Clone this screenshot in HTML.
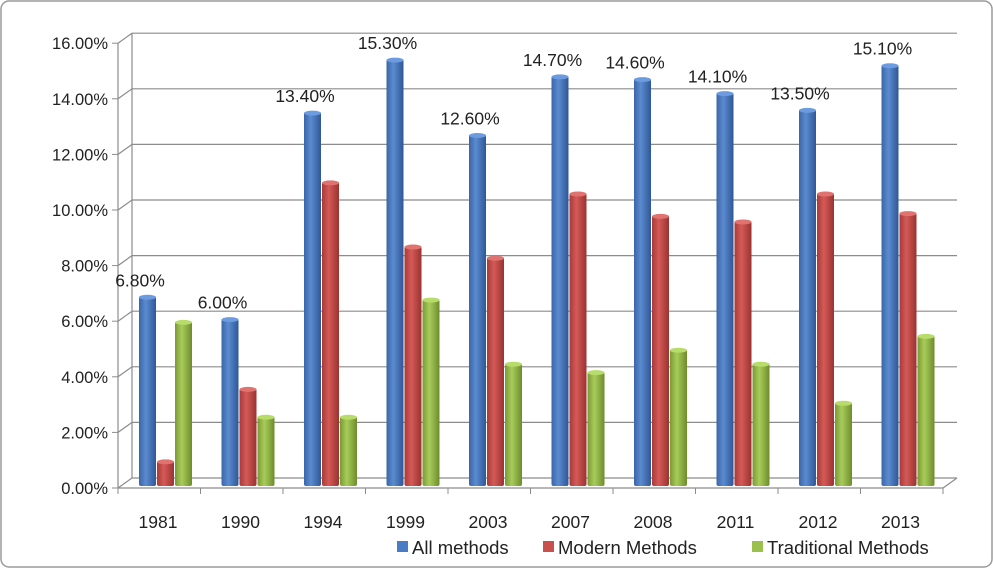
<!DOCTYPE html>
<html><head><meta charset="utf-8"><style>
body{margin:0;background:#fff;}
svg{display:block;font-family:"Liberation Sans",Arial,sans-serif;}
</style></head><body>
<svg id="c" width="993" height="568">
<rect x="1" y="1" width="991" height="566" rx="8" fill="#fff" stroke="#9a9a9a" stroke-width="1.5"/>
<defs>
<linearGradient id="gb" x1="0" x2="1"><stop offset="0" stop-color="#3a66a8"/><stop offset="0.4" stop-color="#5b8bd0"/><stop offset="1" stop-color="#2f5796"/></linearGradient>
<linearGradient id="gr" x1="0" x2="1"><stop offset="0" stop-color="#a83a38"/><stop offset="0.4" stop-color="#d45a57"/><stop offset="1" stop-color="#9a3331"/></linearGradient>
<linearGradient id="gg" x1="0" x2="1"><stop offset="0" stop-color="#7a9a34"/><stop offset="0.4" stop-color="#a8cc5a"/><stop offset="1" stop-color="#6e8c2c"/></linearGradient>
</defs>
<g id="axes"></g><g id="bars"></g><g id="labels"></g>
</svg>
<script>
const categories=["1981","1990","1994","1999","2003","2007","2008","2011","2012","2013"];
const allMethods=[6.8,6.0,13.4,15.3,12.6,14.7,14.6,14.1,13.5,15.1];
const modernMethods=[0.9,3.5,10.9,8.6,8.2,10.5,9.7,9.5,10.5,9.8];
const traditionalMethods=[5.9,2.5,2.5,6.7,4.4,4.1,4.9,4.4,3.0,5.4];
const yTicks=[0,2,4,6,8,10,12,14,16];
const seriesNames=["All methods","Modern Methods","Traditional Methods"];
const NS="http://www.w3.org/2000/svg";
function mk(t,a,p,txt){const e=document.createElementNS(NS,t);for(const k in a)e.setAttribute(k,a[k]);if(txt!=null)e.textContent=txt;p.appendChild(e);return e;}
const axes=document.getElementById('axes'),bars=document.getElementById('bars'),labels=document.getElementById('labels');
const front0=488,pxPer=27.8,dx=14,dy=10,x0=118,catW=82.5;
function yFront(v){return front0-v*pxPer;}
function yBar(v){return 486-v*27.9;}
const xEnd=x0+catW*categories.length;
yTicks.forEach(v=>{
 const y=yFront(v);
 const g=mk('path',{d:`M${x0},${y} L${x0+dx},${y-dy} L${xEnd+dx},${y-dy}`,stroke:'#8c8c8c','stroke-width':1.2,fill:'none'},axes);
 
 mk('line',{x1:x0-6,y1:y,x2:x0,y2:y,stroke:'#8c8c8c'},axes);
 const t=mk('text',{x:x0-10,y:y+6,'text-anchor':'end','font-size':16.5,fill:'#222'},labels,v.toFixed(2)+'%');
 
});
mk('line',{x1:x0,y1:yFront(16),x2:x0,y2:front0,stroke:'#8c8c8c','stroke-width':1.2},axes);
mk('line',{x1:x0+dx,y1:yFront(16)-dy,x2:x0+dx,y2:front0-dy,stroke:'#8c8c8c','stroke-width':1.2},axes);
mk('path',{d:`M${x0},${front0} L${xEnd},${front0} L${xEnd+dx},${front0-dy}`,stroke:'#8c8c8c','stroke-width':1.2,fill:'none'},axes);
for(let i=0;i<=categories.length;i++){const x=x0+i*catW;mk('line',{x1:x,y1:front0,x2:x,y2:front0+6,stroke:'#8c8c8c'},axes);}
const series=[allMethods,modernMethods,traditionalMethods],fills=['url(#gb)','url(#gr)','url(#gg)'],tops=['#6d9be0','#e07370','#b8dc6a'],names=['bar-all','bar-modern','bar-traditional'];
const bw=18;
categories.forEach((c,i)=>{
 const gx=x0+i*catW+21;
 series.forEach((s,j)=>{
  const x=gx+j*bw,y=yBar(s[i]);
  const r=mk('rect',{x:x,y:y,width:bw-1,height:486-y,fill:fills[j],rx:2},bars);
  
  mk('ellipse',{cx:x+(bw-1)/2,cy:y+1,rx:(bw-1)/2,ry:2.5,fill:tops[j]},bars);
 });
 const t=mk('text',{x:gx+1,y:yBar(allMethods[i])-10,'text-anchor':'middle','font-size':17.5,fill:'#222'},labels,allMethods[i].toFixed(2)+'%');
 
 const xl=mk('text',{x:x0+i*catW+40,y:528,'text-anchor':'middle','font-size':17.5,fill:'#222'},labels,c);
 
});
const lx=[397,543,752],lc=['#4a7cc4','#c9504d','#9bc04e'];
seriesNames.forEach((n,j)=>{
 const g=mk('g',{},labels);
 
 mk('rect',{x:lx[j],y:541,width:11,height:11,fill:lc[j]},g);
 mk('text',{x:lx[j]+15,y:554,'font-size':18.5,fill:'#222'},g,n);
});
</script>
</body></html>
